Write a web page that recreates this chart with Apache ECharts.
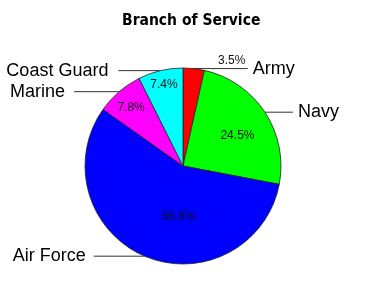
<!DOCTYPE html>
<html>
<head>
<meta charset="utf-8">
<script src="https://cdn.jsdelivr.net/npm/echarts@6/dist/echarts.min.js"></script>
<style>
html,body{margin:0;padding:0;background:#fff;}
#chart{width:365px;height:291px;}
</style>
</head>
<body>
<div id="chart"></div>
<script>
// ---- data ----
const categories = ['Army', 'Navy', 'Air Force', 'Marine', 'Coast Guard'];
const shares = [3.5, 24.5, 56.8, 7.8, 7.4];
const titleText = 'Branch of Service';

// ---- styles ----
const sliceColors = ['#ff0000', '#00ff00', '#0000ff', '#ff00ff', '#00ffff'];
const lineLen2 = [54, 28, 51, 45, 42];
const labelGap = [5, 5, 8, 9, 10];
const pctShift = [[43, -54], [11, -2], [16, 3], [-18, -19], [-7, -31]];

const center = [183, 166];
const radius = 98;

const outerData = categories.map((name, i) => ({
  name: name,
  value: shares[i],
  itemStyle: { color: sliceColors[i] },
  labelLine: { length: 0, length2: lineLen2[i] },
  label: { distanceToLabelLine: labelGap[i] }
}));

const innerData = categories.map((name, i) => ({ name: name, value: shares[i] }));

const chart = echarts.init(document.getElementById('chart'), null, { renderer: 'canvas' });
chart.setOption({
  animation: false,
  backgroundColor: '#ffffff',
  title: {
    text: titleText,
    left: 122,
    top: 13,
    padding: 0,
    textStyle: {
      fontFamily: 'DejaVu Sans Condensed, Liberation Sans Narrow, sans-serif',
      fontWeight: 'bold',
      fontSize: 15.5,
      color: '#000'
    }
  },
  series: [
    {
      type: 'pie',
      center: center,
      radius: radius,
      startAngle: 90,
      clockwise: true,
      avoidLabelOverlap: false,
      silent: true,
      itemStyle: { borderColor: '#222', borderWidth: 0.8 },
      label: {
        show: true,
        position: 'outside',
        formatter: '{b}',
        fontFamily: 'Liberation Sans, Arial, sans-serif',
        fontSize: 18,
        color: '#000'
      },
      labelLine: {
        show: true,
        smooth: false,
        lineStyle: { color: '#333', width: 1 }
      },
      data: outerData
    },
    {
      type: 'pie',
      center: center,
      radius: radius,
      startAngle: 90,
      clockwise: true,
      avoidLabelOverlap: false,
      silent: true,
      itemStyle: { color: 'rgba(0,0,0,0)', borderWidth: 0 },
      label: {
        show: true,
        position: 'inside',
        formatter: p => p.value.toFixed(1) + '%',
        fontFamily: 'Liberation Sans, Arial, sans-serif',
        fontSize: 12,
        color: '#111'
      },
      labelLine: { show: false },
      labelLayout: function (params) {
        const s = pctShift[params.dataIndex];
        return { dx: s[0], dy: s[1] };
      },
      data: innerData
    }
  ]
});
</script>
</body>
</html>
